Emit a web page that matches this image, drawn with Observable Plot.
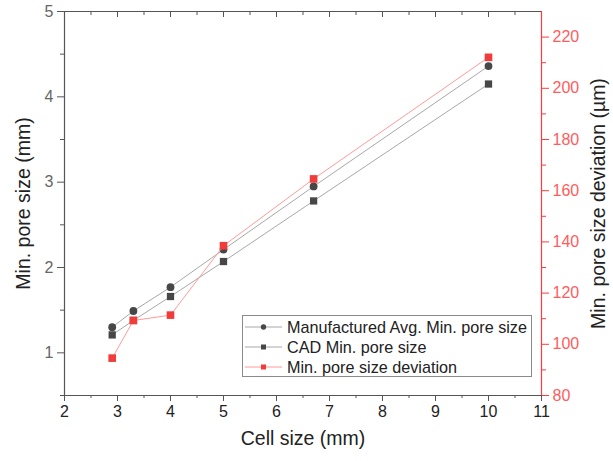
<!DOCTYPE html>
<html>
<head>
<meta charset="utf-8">
<script src="https://cdn.jsdelivr.net/npm/d3@7"></script>
<script src="https://cdn.jsdelivr.net/npm/@observablehq/plot@0.6"></script>
<style>
  body { margin: 0; background: #fff; font-family: "Liberation Sans", Arial, sans-serif; }
  #chart { position: relative; width: 613px; height: 461px; }
  #chart > svg { position: absolute; left: 0; top: 0; background: transparent !important; }
  .legend {
    position: absolute; left: 242px; top: 315px; width: 290px; height: 62px;
    box-sizing: border-box; border: 1px solid #8a8a8a; background: #fff;
    font-size: 16.2px; color: #222; padding-top: 1px;
  }
  .legend .row { display: flex; align-items: center; height: 20px; }
  .legend svg { margin-left: 2px; margin-right: 5px; }
</style>
</head>
<body>
<div id="chart"></div>
<script>
// Cell size (mm) of each sample
const cellSize = [2.9, 3.3, 4, 5, 6.7, 10];
// Manufactured average minimum pore size (mm)
const manufactured = [1.30, 1.49, 1.77, 2.21, 2.95, 4.36];
// CAD minimum pore size (mm)
const cad = [1.21, 1.38, 1.66, 2.07, 2.78, 4.15];
// Minimum pore size deviation (µm)
const deviation = [94.6, 109.3, 111.4, 138.5, 164.6, 212.1];

const xTicks = [2, 3, 4, 5, 6, 7, 8, 9, 10, 11];
const xMinor = [2.5, 3.5, 4.5, 5.5, 6.5, 7.5, 8.5, 9.5, 10.5];
const leftTicks = [1, 2, 3, 4, 5];
const leftMinor = [0.5, 1.5, 2.5, 3.5, 4.5];
const rightTicks = [80, 100, 120, 140, 160, 180, 200, 220];
const rightMinor = [90, 110, 130, 150, 170, 190, 210];

const rows = cellSize.map((c, i) => ({cell: c, man: manufactured[i], cad: cad[i], dev: deviation[i]}));

const font = "'Liberation Sans', Arial, sans-serif";
const frame = {
  width: 613, height: 461,
  marginLeft: 64, marginRight: 72, marginTop: 11, marginBottom: 66,
  style: {fontFamily: font, fontSize: "16px", background: "transparent", overflow: "visible"}
};
const axisGray = "#555";
const red = "#ff3b3b";

// Left axis chart: manufactured and CAD pore sizes
const main = Plot.plot({
  ...frame,
  x: {domain: [2, 11]},
  y: {domain: [0.5, 5]},
  marks: [
    Plot.ruleY([5], {stroke: axisGray, strokeWidth: 1.2}),
    Plot.ruleY([0.5], {stroke: axisGray, strokeWidth: 1.2}),
    Plot.ruleX([2], {stroke: axisGray, strokeWidth: 1.2}),
    // bottom axis
    Plot.axisX(xTicks, {anchor: "bottom", tickSize: 6, tickPadding: 4, stroke: axisGray, fill: "#222", fontSize: 16, tickFormat: "d", label: null}),
    Plot.axisX(xMinor, {anchor: "bottom", tickSize: 3, stroke: axisGray, tickFormat: () => "", label: null}),
    // top frame ticks, pointing inward
    Plot.axisX(xTicks, {anchor: "top", tickSize: -5, stroke: axisGray, tickFormat: () => "", label: null}),
    Plot.axisX(xMinor, {anchor: "top", tickSize: -3, stroke: axisGray, tickFormat: () => "", label: null}),
    // left axis
    Plot.axisY(leftTicks, {anchor: "left", tickSize: 7, tickPadding: 4, stroke: axisGray, fill: "#666", fontSize: 16, tickFormat: "d", label: null}),
    Plot.axisY(leftMinor, {anchor: "left", tickSize: 4, stroke: axisGray, tickFormat: () => "", label: null}),
    Plot.text(["Cell size (mm)"], {frameAnchor: "bottom", dy: 49, fontSize: 19.5, fill: "#222", textAnchor: "middle"}),
    Plot.text(["Min. pore size (mm)"], {frameAnchor: "left", dx: -41, rotate: -90, fontSize: 19.5, fill: "#222", textAnchor: "middle"}),
    // series
    Plot.line(rows, {x: "cell", y: "man", stroke: "#a8a8a8", strokeWidth: 1}),
    Plot.line(rows, {x: "cell", y: "cad", stroke: "#a8a8a8", strokeWidth: 1}),
    Plot.dot(rows, {x: "cell", y: "cad", symbol: "square", r: 4.1, fill: "#474747", stroke: "none"}),
    Plot.dot(rows, {x: "cell", y: "man", symbol: "circle", r: 3.9, fill: "#474747", stroke: "none"})
  ]
});

// Right axis chart: pore size deviation
const secondary = Plot.plot({
  ...frame,
  x: {domain: [2, 11], axis: null},
  y: {domain: [80, 230], axis: null},
  marks: [
    Plot.ruleX([11], {stroke: red, strokeWidth: 1.2}),
    Plot.axisY(rightTicks, {anchor: "right", tickSize: 7, tickPadding: 4, stroke: red, fill: "#ff5c5c", fontSize: 16, tickFormat: "d", label: null}),
    Plot.axisY(rightMinor, {anchor: "right", tickSize: 4, stroke: red, tickFormat: () => "", label: null}),
    Plot.text(["Min. pore size deviation (µm)"], {frameAnchor: "right", dx: 57, rotate: -90, fontSize: 19.5, fill: "#222", textAnchor: "middle"}),
    Plot.line(rows, {x: "cell", y: "dev", stroke: "#ff9a9a", strokeWidth: 1}),
    Plot.dot(rows, {x: "cell", y: "dev", symbol: "square", r: 4.3, fill: "#f23b3b", stroke: "none"})
  ]
});

const chart = document.getElementById("chart");
chart.appendChild(main);
chart.appendChild(secondary);

// Legend
const legendItems = [
  {label: "Manufactured Avg. Min. pore size", line: "#a8a8a8", fill: "#474747", shape: "circle"},
  {label: "CAD Min. pore size", line: "#a8a8a8", fill: "#474747", shape: "square"},
  {label: "Min. pore size deviation", line: "#ff9a9a", fill: "#f23b3b", shape: "square"}
];
const legend = d3.select(chart).append("div").attr("class", "legend");
for (const item of legendItems) {
  const row = legend.append("div").attr("class", "row");
  const sw = row.append("svg").attr("width", 37).attr("height", 12);
  sw.append("line").attr("x1", 0).attr("x2", 37).attr("y1", 6).attr("y2", 6).attr("stroke", item.line).attr("stroke-width", 1);
  if (item.shape === "circle") sw.append("circle").attr("cx", 18.5).attr("cy", 6).attr("r", 2.7).attr("fill", item.fill);
  else sw.append("rect").attr("x", 16).attr("y", 3.5).attr("width", 5).attr("height", 5).attr("fill", item.fill);
  row.append("span").text(item.label);
}
</script>
</body>
</html>
